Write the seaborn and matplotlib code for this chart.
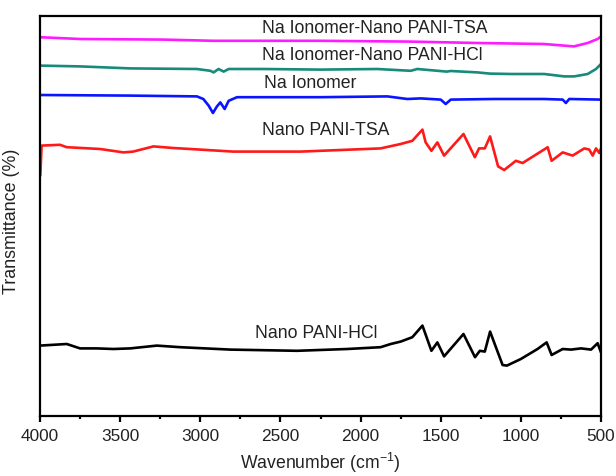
import matplotlib
matplotlib.use("Agg")
import matplotlib.pyplot as plt
from matplotlib.ticker import MultipleLocator
import seaborn as sns
import pandas as pd

# ---------------- data ----------------
pani_hcl_w = [4000, 3833, 3750, 3646, 3542, 3437, 3271, 3125, 2812, 2396, 2083, 1875, 1812,
              1750, 1677, 1614, 1558, 1521, 1479, 1358, 1286, 1256, 1225, 1192, 1114, 1087,
              1000, 896, 839, 808, 739, 687, 625, 562, 521, 500]
pani_hcl_t = [17.6, 18.0, 16.9, 16.9, 16.75, 16.9, 17.6, 17.2, 16.6, 16.3, 16.75, 17.2, 18.0,
              18.6, 19.7, 22.6, 16.3, 18.4, 14.9, 20.5, 14.7, 16.3, 16.1, 21.1, 12.75, 12.6,
              14.25, 16.75, 18.4, 15.25, 16.75, 16.6, 16.9, 16.6, 18.2, 15.9]

pani_tsa_w = [3998, 3990, 3875, 3833, 3625, 3479, 3419, 3292, 3169, 3000, 2794, 2375, 1875,
              1750, 1677, 1614, 1594, 1558, 1521, 1479, 1358, 1287, 1261, 1225, 1192, 1142,
              1104, 1031, 989, 844, 833, 808, 739, 677, 604, 573, 552, 531, 511, 500]
pani_tsa_t = [60.1, 67.6, 67.8, 67.2, 66.75, 65.9, 66.1, 67.4, 67.0, 66.6, 66.1, 66.1, 66.9,
              68.0, 68.8, 71.6, 68.4, 66.3, 68.4, 65.1, 70.5, 64.7, 66.9, 66.9, 69.9, 62.4,
              61.5, 63.8, 63.25, 66.9, 67.2, 63.8, 65.9, 65.1, 66.9, 66.6, 65.1, 66.9, 65.75, 66.9]

ionomer_w = [4000, 3437, 3021, 2981, 2948, 2921, 2896, 2875, 2848, 2823, 2771, 2250, 1833,
             1708, 1625, 1500, 1469, 1437, 1169, 854, 739, 719, 698, 500]
ionomer_t = [80.25, 80.1, 79.9, 79.25, 77.6, 75.75, 77.4, 78.4, 76.75, 78.8, 79.7, 79.7, 79.9,
             79.25, 79.4, 79.1, 78.0, 79.1, 79.25, 79.25, 79.1, 78.25, 79.25, 79.1]

ion_hcl_w = [4000, 3750, 3437, 3021, 2937, 2917, 2886, 2854, 2823, 2604, 2250, 1896, 1687,
             1646, 1463, 1437, 1271, 1194, 1062, 854, 729, 667, 583, 531, 500]
ion_hcl_t = [87.6, 87.4, 86.9, 86.75, 86.3, 85.9, 86.75, 86.1, 86.75, 86.75, 86.6, 86.75, 86.3,
             86.75, 86.1, 86.25, 85.9, 85.6, 85.5, 85.5, 84.9, 84.9, 85.5, 86.75, 88.0]

ion_tsa_w = [4000, 3750, 3231, 2919, 2250, 1687, 1271, 856, 669, 583, 521, 500]
ion_tsa_t = [94.7, 94.25, 94.1, 93.8, 93.8, 93.6, 93.25, 93.0, 92.4, 93.25, 94.25, 94.9]

series_names = ["Nano PANI-HCl", "Nano PANI-TSA", "Na Ionomer",
                "Na Ionomer-Nano PANI-HCl", "Na Ionomer-Nano PANI-TSA"]
series_w = [pani_hcl_w, pani_tsa_w, ionomer_w, ion_hcl_w, ion_tsa_w]
series_t = [pani_hcl_t, pani_tsa_t, ionomer_t, ion_hcl_t, ion_tsa_t]
series_colors = ["#000000", "#ff1a1a", "#0a14ff", "#178a7c", "#ff1aff"]

# label anchor positions (wavenumber, transmittance)
label_x = [2656, 2612, 2600, 2612, 2612]
label_y = [21.0, 71.6, 83.5, 90.5, 97.25]

xticks = [4000, 3500, 3000, 2500, 2000, 1500, 1000, 500]

# ---------------- plotting ----------------
sns.set_theme(style="ticks")
plt.rcParams["font.family"] = ["Liberation Sans", "DejaVu Sans"]
plt.rcParams["mathtext.fontset"] = "custom"
plt.rcParams["mathtext.rm"] = "Liberation Sans"
plt.rcParams["mathtext.it"] = "Liberation Sans"

fig = plt.figure(figsize=(6.16, 4.77), dpi=100)
ax = fig.add_axes([40 / 616, (477 - 417) / 477, 561 / 616, 400 / 477])

frames = []
for name, w, t in zip(series_names, series_w, series_t):
    frames.append(pd.DataFrame({"wavenumber": w, "T": t, "sample": name}))
df = pd.concat(frames, ignore_index=True)

for name, color in zip(series_names, series_colors):
    sub = df[df["sample"] == name]
    sns.lineplot(data=sub, x="wavenumber", y="T", ax=ax, color=color,
                 linewidth=1.9, estimator=None, sort=False)

for name, x, y in zip(series_names, label_x, label_y):
    ax.text(x, y, name, ha="left", va="center", fontsize=12.7, color="#222222")

ax.set_xlim(4000, 500)
ax.set_ylim(0, 100)
ax.set_xticks(xticks)
ax.set_xticklabels([str(v) for v in xticks])
ax.xaxis.set_minor_locator(MultipleLocator(250))
ax.set_yticks([])

for s in ax.spines.values():
    s.set_linewidth(1.6)
    s.set_color("black")

ax.tick_params(axis="x", which="major", direction="out", length=4.5, width=1.6,
               labelsize=12.4, pad=4.5, colors="black", labelcolor="#222222")
ax.tick_params(axis="x", which="minor", direction="out", length=2.5, width=1.6, colors="black")

ax.set_xlabel(r"Wavenumber (cm$^{-1}$)", fontsize=12.7, color="#222222")
ax.set_ylabel("Transmittance (%)", fontsize=12.9, color="#222222")
ax.xaxis.set_label_coords(0.5, -0.085)
ax.yaxis.set_label_coords(-0.036, 0.49)

fig.savefig("out.png", dpi=100)
